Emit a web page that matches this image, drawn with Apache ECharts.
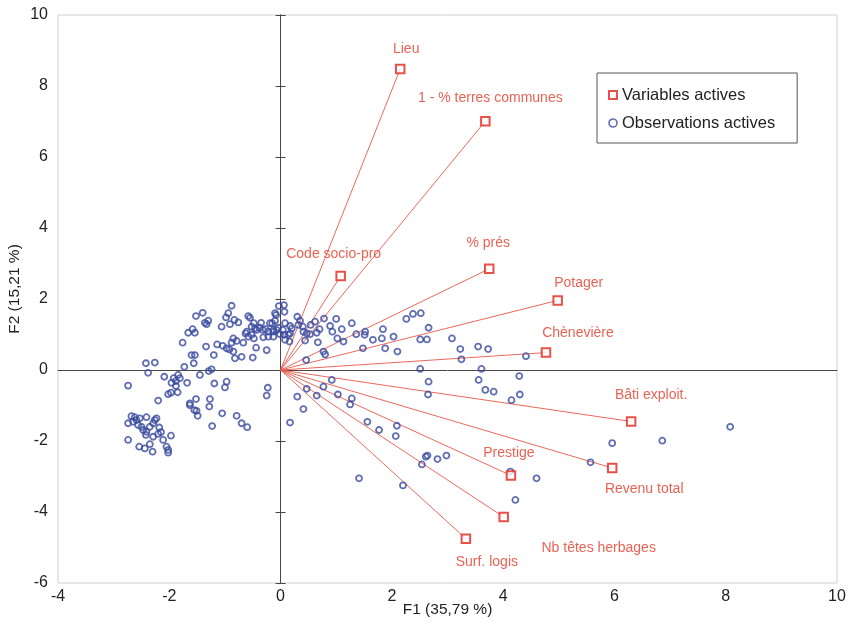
<!DOCTYPE html>
<html><head><meta charset="utf-8">
<script src="https://cdn.jsdelivr.net/npm/echarts@6/dist/echarts.min.js"></script>
<style>html,body{margin:0;padding:0;background:#fff}#c{width:853px;height:627px}</style>
</head><body><div id="c"></div>
<script>
// ---- data ----
const variableNames = ['Lieu','1 - % terres communes','Code socio-pro','% prés','Potager','Chènevière','Bâti exploit.','Revenu total','Prestige','Nb têtes herbages','Surf. logis'];
const variableX = [2.15, 3.68, 1.08, 3.75, 4.98, 4.77, 6.30, 5.96, 4.14, 4.01, 3.33];
const variableY = [8.48, 7.01, 2.65, 2.85, 1.96, 0.49, -1.45, -2.76, -2.97, -4.14, -4.75];
const observations = [
[-0.88,1.81],[-1.40,1.61],[-1.52,1.52],[-0.94,1.60],[-0.98,1.48],[-0.83,1.41],[-0.76,1.34],[-0.91,1.29],[-1.30,1.39],[-1.36,1.33],
[-1.33,1.29],[-0.58,1.52],[-0.55,1.47],[-0.48,1.32],[-0.35,1.33],[-0.38,1.19],[-0.27,1.15],[-0.32,1.13],[-0.52,1.22],[-0.43,1.13],
[-0.63,1.03],[-0.52,0.99],[-0.48,0.89],[-0.31,0.92],[-0.22,0.94],[-0.13,0.94],[-0.10,1.60],[-0.03,1.80],[0.07,1.64],[0.08,1.32],
[0.17,1.24],[-0.15,1.32],[-0.10,1.39],[-0.04,1.19],[0.04,1.13],[0.07,0.99],[0.08,0.85],[0.16,0.80],[-0.13,1.13],[-1.58,1.15],
[-1.66,1.05],[-1.54,1.05],[-1.76,0.77],[-1.06,1.22],[-0.85,0.89],[-0.79,0.82],[-0.67,0.77],[-0.88,0.77],[-1.14,0.72],[-1.04,0.68],
[-0.97,0.61],[-0.92,0.58],[-0.85,0.52],[-0.82,0.33],[-0.70,0.37],[-0.50,0.35],[-0.44,0.63],[-0.25,0.56],[-1.34,0.66],[-1.20,0.42],
[-1.60,0.42],[-1.54,0.42],[-1.56,0.19],[-1.73,0.09],[-2.42,0.19],[-2.26,0.21],[-2.38,-0.08],[-1.29,-0.03],[-1.24,0.02],[-1.45,-0.14],
[-2.09,-0.19],[-1.92,-0.23],[-1.84,-0.14],[-1.81,-0.23],[-1.88,-0.31],[-1.96,-0.36],[-1.68,-0.36],[-1.19,-0.38],[-0.97,-0.33],[-1.00,-0.49],
[-1.88,-0.45],[-2.74,-0.44],[-2.02,-0.68],[-1.97,-0.64],[-1.85,-0.63],[-0.23,-0.50],[-0.25,-0.72],[0.30,-0.75],[-2.20,-0.86],[-1.52,-0.82],
[-1.63,-0.94],[-1.63,-0.99],[-1.27,-0.82],[-1.28,-1.03],[-1.55,-1.13],[-1.51,-1.15],[-1.49,-1.29],[-1.05,-1.22],[-0.79,-1.29],[-0.70,-1.50],
[-0.60,-1.61],[-1.23,-1.58],[0.17,-1.48],
[-2.68,-1.30],[-2.62,-1.33],[-2.53,-1.36],[-2.41,-1.33],[-2.74,-1.50],[-2.59,-1.41],[-2.56,-1.55],[-2.50,-1.60],[-2.47,-1.69],[-2.23,-1.36],
[-2.26,-1.41],[-2.29,-1.50],[-2.35,-1.60],[-2.41,-1.74],[-2.29,-1.88],[-2.20,-1.80],[-2.15,-1.75],[-1.97,-1.85],[-2.11,-1.97],[-2.74,-1.97],
[-2.54,-2.16],[-2.44,-2.21],[-2.35,-2.09],[-2.05,-2.16],[-2.02,-2.25],[-2.02,-2.33],[-2.30,-2.30],[-2.65,-1.46],[-2.42,-1.83],[-2.18,-1.62],
[-0.08,1.55],[-0.19,1.32],[-0.22,1.08],[-0.13,1.08],[-0.07,1.13],[-0.01,1.01],[0.77,0.52],[-0.46,1.17],[-0.61,1.08],[-0.58,0.94],
[0.20,1.17],[0.17,1.03],[0.14,0.99],[0.06,1.83],
[0.30,1.50],[0.35,1.39],[0.32,1.27],[0.40,1.22],[0.41,1.08],[0.47,1.03],[0.44,0.83],[0.53,1.01],[0.54,1.27],[0.62,1.36],
[0.65,1.05],[0.70,1.15],[0.78,1.45],[0.89,1.24],[0.93,1.08],[1.00,1.44],[1.02,0.89],[1.10,1.15],[1.13,0.80],[1.28,1.32],
[1.36,1.01],[1.48,0.61],[1.52,1.08],[1.51,0.99],[1.66,0.85],[1.82,0.89],[1.84,1.15],[1.88,0.61],[2.03,0.94],[2.10,0.52],
[2.26,1.44],[2.38,1.58],[2.52,1.60],[2.66,1.19],[2.51,0.86],[2.63,0.86],[3.08,0.89],[3.23,0.59],[3.25,0.30],[3.55,0.66],
[3.73,0.59],[4.41,0.39],[0.46,0.28],[0.80,0.44],[0.67,0.78],
[2.51,0.03],[2.66,-0.33],[2.65,-0.69],[3.61,0.03],[3.56,-0.28],[3.68,-0.56],[3.83,-0.61],[4.29,-0.17],[4.30,-0.69],[4.15,-0.85],
[0.92,-0.28],[0.47,-0.53],[0.77,-0.47],[0.65,-0.72],[1.03,-0.69],[1.28,-0.80],[1.25,-0.97],[0.41,-1.10],[1.56,-1.46],[1.77,-1.69],
[2.09,-1.57],[2.07,-1.86],[2.61,-2.44],[2.64,-2.41],[2.54,-2.66],[2.82,-2.51],[2.98,-2.41],[1.41,-3.05],[2.20,-3.25],[4.13,-2.86],
[4.60,-3.05],[4.22,-3.66],[5.96,-2.06],[6.86,-1.99],[8.08,-1.60],[5.57,-2.60]
];
const legendNames = ['Variables actives', 'Observations actives'];
const xAxisTitle = 'F1 (35,79 %)';
const yAxisTitle = 'F2 (15,21 %)';

// ---- styling ----
const labelOffsets = {
  'Lieu':[6,-20], '1 - % terres communes':[5,-23], 'Code socio-pro':[-7,-22], '% prés':[-1,-26],
  'Potager':[21,-17], 'Chènevière':[32,-19], 'Bâti exploit.':[20,-26], 'Revenu total':[32,21],
  'Prestige':[-2,-22], 'Nb têtes herbages':[95,31], 'Surf. logis':[21,24]
};
const FONT = "'Liberation Sans',Arial,sans-serif";
const RED = '#e2261d';
const LABEL_RED = '#e43a28';
const LINE_RED = '#e9574b';
const BLUE = '#3a4b9f';
const AXIS_DARK = '#4d4444';

const chart = echarts.init(document.getElementById('c'), null, {renderer:'canvas'});
const valueAxisBase = {type:'value', splitLine:{show:false}};
chart.setOption({
  animation:false,
  backgroundColor:'#fff',
  grid:{left:58, right:16, top:15, bottom:44, show:true, borderColor:'#d9cfcf', borderWidth:1,
        backgroundColor:'transparent', containLabel:false, outerBoundsMode:'none'},
  xAxis:[
    Object.assign({}, valueAxisBase, {min:-4, max:10, interval:2, position:'bottom',
      axisLine:{show:false, onZero:false}, axisTick:{show:false},
      axisLabel:{fontFamily:FONT, fontSize:16, color:'#222', margin:6},
      name:xAxisTitle, nameLocation:'middle', nameGap:19, nameMoveOverlap:false,
      nameTextStyle:{fontFamily:FONT, fontSize:15.5, color:'#222'}}),
    Object.assign({}, valueAxisBase, {min:-4, max:10, interval:2, position:'top',
      axisLine:{show:true, onZero:true, onZeroAxisIndex:0, lineStyle:{color:AXIS_DARK, width:1}},
      axisTick:{show:false}, axisLabel:{show:false}})
  ],
  yAxis:[
    Object.assign({}, valueAxisBase, {min:-6, max:10, interval:2, position:'left',
      axisLine:{show:false, onZero:false}, axisTick:{show:false},
      axisLabel:{fontFamily:FONT, fontSize:16, color:'#222', margin:10},
      name:yAxisTitle, nameLocation:'middle', nameGap:35, nameMoveOverlap:false,
      nameTextStyle:{fontFamily:FONT, fontSize:15.5, color:'#222', padding:[0,0,0,20]}}),
    Object.assign({}, valueAxisBase, {min:-6, max:10, interval:2, position:'left',
      axisLine:{show:true, onZero:true, onZeroAxisIndex:0, lineStyle:{color:AXIS_DARK, width:1}},
      axisTick:{show:true, length:5, lineStyle:{color:AXIS_DARK}}, axisLabel:{show:false}}),
    Object.assign({}, valueAxisBase, {min:-6, max:10, interval:2, position:'right',
      axisLine:{show:true, onZero:true, onZeroAxisIndex:0, lineStyle:{color:AXIS_DARK, width:1}},
      axisTick:{show:true, length:5, lineStyle:{color:AXIS_DARK}}, axisLabel:{show:false}})
  ],
  legend:{
    orient:'vertical', left:597, top:73, padding:[12,22,10,11], itemGap:8,
    itemWidth:8, itemHeight:8, borderColor:'#555', borderWidth:1, selectedMode:false,
    textStyle:{fontFamily:FONT, fontSize:16.5, color:'#222', lineHeight:20},
    data:[
      {name:legendNames[0], icon:'rect', itemStyle:{color:'#fff', borderColor:RED, borderWidth:2}},
      {name:legendNames[1], icon:'circle', itemStyle:{color:'#fff', borderColor:BLUE, borderWidth:1.6}}
    ]
  },
  series:[
    {type:'lines', coordinateSystem:'cartesian2d', xAxisIndex:0, yAxisIndex:0, silent:true, z:2,
      data: variableNames.map((n,i)=>({coords:[[0,0],[variableX[i],variableY[i]]]})),
      lineStyle:{color:LINE_RED, width:0.9, opacity:1}},
    {type:'scatter', name:legendNames[1], xAxisIndex:0, yAxisIndex:0, z:3, data:observations,
      symbol:'circle', symbolSize:6,
      itemStyle:{color:'rgba(255,255,255,0)', borderColor:BLUE, borderWidth:1.8}},
    {type:'scatter', name:legendNames[0], xAxisIndex:0, yAxisIndex:0, z:4,
      data: variableNames.map((n,i)=>({name:n, value:[variableX[i],variableY[i]], label:{offset:labelOffsets[n]}})),
      symbol:'rect', symbolSize:8.5,
      itemStyle:{color:'#fff', borderColor:RED, borderWidth:2},
      label:{show:true, position:'inside', formatter:'{b}', color:LABEL_RED, fontFamily:FONT, fontSize:14, align:'center', verticalAlign:'middle'}}
  ]
});
</script>
</body></html>
